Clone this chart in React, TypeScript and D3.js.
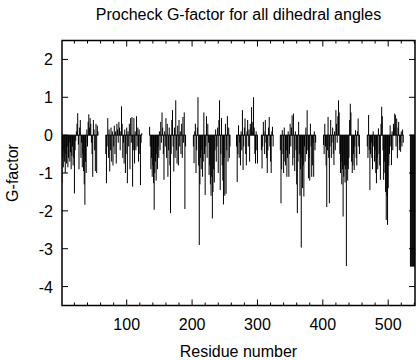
import * as d3 from 'd3';

// residue number where each chain segment starts
const chainStarts = [1, 68, 135, 202, 268, 306, 335, 401, 468, 534];

// G-factor per residue
const chainA = [
  -1.25, -0.6, -0.85, -0.4, -0.7, -1.0, -0.5, -0.75, -0.3, -0.85,
  -0.6, -0.2, -0.7, -0.45, -0.9, -0.55, -0.3, -0.8, -0.6, -1.54,
  -0.4, -0.15, 0.1, 0.3, 0.58, -0.25, -0.9, 0.2, 0.4, -0.6,
  -0.2, -0.85, -0.5, -0.95, -1.3, -1.84, -0.7, -1.0, 0.15, -0.3,
  0.35, 0.55, 0.2, 0.45, 0.3, -0.2, -0.5, -1.1, 0.4, 0.15,
  -0.4, -0.95, 0.3, -1.0, 0.25, 0.1,
];
const chainB = [
  -0.5, -1.27, -0.3, 0.45, -0.6, 0.15, -0.96, -0.4, 0.2, -0.7,
  0.1, -0.8, -0.3, 0.25, -0.5, 0.1, -0.75, 0.3, 0.15, -0.2,
  0.35, 0.2, -0.4, 0.1, 0.76, 0.3, -0.6, -0.2, -0.75, 0.15,
  -1.0, -0.5, 0.2, -1.27, 0.1, -0.3, 0.3, -0.9, 0.45, -0.2,
  0.48, -1.36, -0.4, 0.45, -0.75, 0.1, -0.4, 0.5, -0.3, 0.2,
  -0.7, 0.15, -0.5, -1.32, -0.2, 0.05,
];
const chainC = [
  0.22, -0.3, -0.9, -0.6, -1.1, -0.8, -1.27, -1.97, -1.0, -0.7,
  -1.2, -0.5, -0.9, -0.3, -0.6, 0.1, -0.4, 0.35, -0.2, 0.6,
  0.2, -0.5, -1.18, 0.1, -0.3, 0.45, -0.6, 0.3, -1.1, -0.4,
  0.2, -0.8, -2.06, -0.5, 0.4, 0.66, -0.3, -0.96, 0.2, -0.6,
  0.92, -0.4, -0.75, 0.25, -0.8, 0.4, -0.3, 0.1, -0.5, 0.3,
  -0.6, 0.48, -0.2, 0.6, -1.95, -0.3,
];
const chainD = [
  -0.3, -0.74, 0.1, 0.3, -1.0, -0.4, 0.2, 1.0, -0.8, -2.9,
  -1.3, -0.6, -0.9, -0.4, -1.1, -0.7, 0.6, -0.5, -1.58, -0.3,
  0.5, -0.6, 0.3, -0.2, -1.05, -0.8, -1.3, -1.6, -1.1, -2.2,
  -1.5, -0.9, -1.25, -0.4, 0.15, -0.7, -0.3, 0.2, -1.0, 0.4,
  0.92, -1.45, -0.5, 0.45, -0.8, -1.2, -1.83, -0.6, -1.6, 0.3,
  -1.55, -0.4, 0.5, -0.7, 0.2, -0.6, -0.3,
];
const chainE = [
  -0.3, -1.24, -0.5, 0.26, -0.6, -0.2, -0.8, 0.1, -0.4, 0.66,
  -0.92, -0.3, 0.2, 0.44, -0.5, -0.8, 0.1, 0.4, -0.3, 0.15,
  -0.7, 0.3, 0.2, 0.74, 0.35, 0.1, 1.0, 0.2, -0.5, -0.75,
  0.1, -0.4, -0.75,
];
const chainF = [
  -0.4, -0.88, -0.3, 0.35, 0.1, -0.5, 0.4, -0.2, -0.6, -1.0,
  -0.4, 0.2, 0.48, -0.3, -0.7, -1.0, 0.1, 0.22, -0.3,
];
const chainG = [
  -0.4, -1.8, -0.9, 0.13, -0.5, -1.0, 0.2, -0.7, -0.8, -0.4,
  -1.1, -0.6, 0.1, -1.1, -0.5, 0.3, -0.3, 0.2, 0.52, -0.8,
  0.57, -0.6, -0.95, 0.1, -0.4, -1.3, -2.06, -0.7, 0.35, -0.5,
  -1.6, -0.9, -2.97, -0.6, -1.4, -0.8, -1.62, -0.3, -0.7, 0.2,
  -0.5, 0.66, -0.4, -1.14, -0.6, -1.2, 0.3, -0.3, -1.1, -0.8,
  -0.2, -1.1, 0.1, -0.4, -0.2,
];
const chainH = [
  -0.26, -0.5, 0.3, -0.3, -0.8, -1.9, -0.4, 0.48, -0.6, -1.8,
  -0.3, 0.4, -0.6, -0.2, 0.2, -0.5, -0.79, 0.1, -0.4, 0.66,
  0.3, -0.2, 0.5, 0.92, 0.6, -0.5, -1.0, -0.7, -1.3, -0.9,
  -2.15, -1.1, -0.8, -1.25, -0.9, -3.46, -0.8, -1.2, -0.9, -0.6,
  0.4, 0.83, 0.6, -0.7, -1.0, -0.8, -0.5, -0.92, -0.3, 0.13,
  -0.6, -0.8, 0.1, 0.44, -0.3, -0.5,
];
const chainI = [
  -0.3, -0.6, 0.53, -0.4, -1.45, -0.5, -0.2, -0.6, -0.9, 0.1,
  -0.3, -0.7, -0.4, -1.0, -1.27, -0.6, -0.9, 0.18, -0.5, -0.8,
  -1.18, 0.3, 0.75, 0.5, -0.4, -1.18, -0.7, -1.0, -1.5, -2.24,
  -1.6, -2.37, -1.4, -0.8, -0.5, 0.26, -0.3, -0.79, 0.1, -0.4,
  0.3, 0.2, 0.57, 0.53, -0.3, 0.44, -0.61, 0.2, 0.35, -0.4,
  -0.2, -0.44, 0.1, -0.3, 0.15, -0.2,
];
const chainJ = [-3.47, -3.47, -3.47, -3.47, -3.47, -3.47, -3.47, -3.47];

const chains = [chainA, chainB, chainC, chainD, chainE, chainF, chainG, chainH, chainI, chainJ];

const xTicks = [100, 200, 300, 400, 500];
const yTicks = [2, 1, 0, -1, -2, -3, -4];

const font = 'Liberation Sans, Arial, Helvetica, sans-serif';

export default function App() {
  const width = 416;
  const height = 360;
  const left = 62, right = 415, top = 40.5, bottom = 305.5;

  const x = d3.scaleLinear().domain([1, 541]).range([left, right]);
  const y = d3.scaleLinear().domain([-4.5, 2.5]).range([bottom, top]);
  const barW = 1;
  const y0 = y(0);

  const bars = chains.flatMap((vals, i) =>
    vals.map((g, j) => ({ res: chainStarts[i] + j, g }))
  );
  const minorX = d3.range(20, 541, 20).filter((t) => t % 100 !== 0);

  return (
    <svg width={width} height={height} style={{ position: 'absolute', left: 0, top: 0, background: '#fff' }}>
      <defs>
        <clipPath id="plot">
          <rect x={left} y={top} width={right - left} height={bottom - top} />
        </clipPath>
      </defs>
      <text x={(left + right) / 2} y={20} textAnchor="middle" fontFamily={font} fontSize={16}>
        Procheck G-factor for all dihedral angles
      </text>

      <g clipPath="url(#plot)">
        {chains.map((vals, i) => (
          <line
            key={'base' + i}
            x1={x(chainStarts[i] - 0.5)}
            x2={x(chainStarts[i] + vals.length - 0.5)}
            y1={y0}
            y2={y0}
            stroke="#000"
            strokeWidth={1}
          />
        ))}
        {bars.map((d) => (
          <rect
            key={d.res}
            x={x(d.res) - barW / 2}
            width={barW}
            y={Math.min(y(d.g), y0)}
            height={Math.abs(y(d.g) - y0)}
            fill="#000"
          />
        ))}
      </g>

      <rect x={left} y={top} width={right - left} height={bottom - top} fill="none" stroke="#000" strokeWidth={1.5} />

      {xTicks.map((t) => (
        <g key={'xt' + t}>
          <line x1={x(t)} x2={x(t)} y1={bottom} y2={bottom - 6} stroke="#000" />
          <line x1={x(t)} x2={x(t)} y1={top} y2={top + 6} stroke="#000" />
          <text x={x(t)} y={330} textAnchor="middle" fontFamily={font} fontSize={16}>
            {t}
          </text>
        </g>
      ))}
      {minorX.map((t) => (
        <g key={'xm' + t}>
          <line x1={x(t)} x2={x(t)} y1={bottom} y2={bottom - 3} stroke="#000" />
          <line x1={x(t)} x2={x(t)} y1={top} y2={top + 3} stroke="#000" />
        </g>
      ))}
      {yTicks.map((t) => (
        <g key={'yt' + t}>
          <line x1={left} x2={left + 6} y1={y(t)} y2={y(t)} stroke="#000" />
          <line x1={right} x2={right - 6} y1={y(t)} y2={y(t)} stroke="#000" />
          <text x={53} y={y(t) + 6} textAnchor="end" fontFamily={font} fontSize={16}>
            {t}
          </text>
        </g>
      ))}

      <text x={(left + right) / 2} y={357} textAnchor="middle" fontFamily={font} fontSize={16}>
        Residue number
      </text>
      <text
        transform={`translate(18, ${(top + bottom) / 2}) rotate(-90)`}
        textAnchor="middle"
        fontFamily={font}
        fontSize={16}
      >
        G-factor
      </text>
    </svg>
  );
}
